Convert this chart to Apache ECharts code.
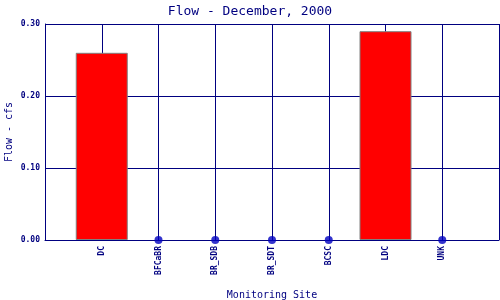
<!DOCTYPE html>
<html><head><meta charset="utf-8">
<script src="https://cdn.jsdelivr.net/npm/echarts@6/dist/echarts.min.js"></script>
<style>html,body{margin:0;padding:0;background:#fff}#c{width:500px;height:300px}</style>
</head><body><div id="c"></div>
<script>
const categories = ['DC', 'BFCaBR', 'BR_SDB', 'BR_SDT', 'BCSC', 'LDC', 'UNK'];
const flowValues = [0.26, 0, 0, 0, 0, 0.29, 0];
const yTicks = [0, 0.1, 0.2, 0.3];

const navy = '#000080';
const cats = [''].concat(categories, ['']);
const barData = ['-'].concat(flowValues.map(v => v > 0 ? v : '-'), ['-']);
const dotData = ['-'].concat(flowValues.map(v => v === 0 ? 0 : '-'), ['-']);

const chart = echarts.init(document.getElementById('c'), null, {renderer: 'canvas'});
chart.setOption({
  animation: false,
  backgroundColor: '#fff',
  title: {
    text: 'Flow - December, 2000', left: 'center', top: 0,
    textStyle: {fontFamily: 'DejaVu Sans Mono', fontSize: 13, fontWeight: 'normal', color: navy}
  },
  graphic: [{
    type: 'text', x: 9, y: 132, rotation: Math.PI / 2,
    style: {text: 'Flow - cfs', fill: navy, font: '10px "DejaVu Sans Mono"', align: 'center', verticalAlign: 'middle'}
  }],
  grid: {left: 45, right: 1, top: 24, bottom: 60, containLabel: false, outerBoundsMode: 'none'},
  xAxis: {
    type: 'category', data: cats, boundaryGap: false,
    name: 'Monitoring Site', nameLocation: 'middle', nameGap: 50,
    nameTextStyle: {fontFamily: 'DejaVu Sans Mono', fontSize: 10, color: navy},
    axisLine: {lineStyle: {color: navy, width: 1}},
    axisTick: {show: false},
    axisLabel: {rotate: 90, interval: 0, margin: 6, fontFamily: 'DejaVu Sans Mono', fontSize: 8, fontWeight: 'bold', color: navy},
    splitLine: {show: true, lineStyle: {color: navy, width: 1}}
  },
  yAxis: {
    type: 'value', min: yTicks[0], max: yTicks[yTicks.length - 1], interval: 0.1,
    axisLine: {show: true, lineStyle: {color: navy, width: 1}},
    axisTick: {show: false},
    axisLabel: {margin: 5, fontFamily: 'DejaVu Sans Mono', fontSize: 8, fontWeight: 'bold', color: navy,
      formatter: v => v.toFixed(2)},
    splitLine: {show: true, lineStyle: {color: navy, width: 1}}
  },
  series: [
    {type: 'bar', data: barData, barWidth: 52,
     itemStyle: {color: '#ff0000', borderColor: '#808080', borderWidth: 1}},
    {type: 'scatter', data: dotData, symbol: 'circle', symbolSize: 8,
     itemStyle: {color: '#0000c0'}, z: 5}
  ]
});
</script></body></html>
